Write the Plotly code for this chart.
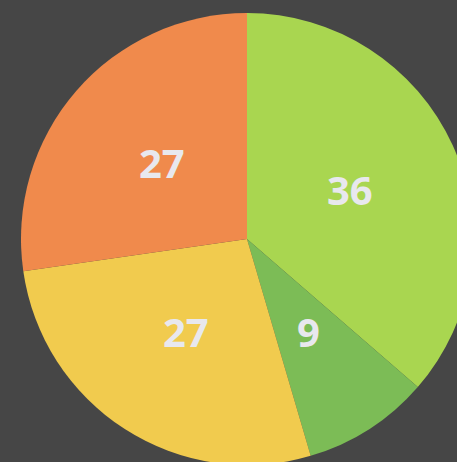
import math
import plotly.graph_objects as go

labels = ["A", "B", "C", "D"]
values = [36, 9, 27, 27]
colors = ["#a9d650", "#7cbc56", "#f1cb4e", "#f08a4c"]

fig = go.Figure(
    go.Pie(
        labels=labels,
        values=values,
        sort=False,
        direction="clockwise",
        rotation=0,
        marker=dict(colors=colors, line=dict(width=0)),
        textinfo="none",
        showlegend=False,
        hoverinfo="label+value",
    )
)

# value labels placed at half radius on each slice's mid-angle (derived from the data)
total = sum(values)
cum = 0
for v in values:
    mid = (cum + v / 2) / total * 2 * math.pi
    cum += v
    fig.add_annotation(
        x=0.5 + 0.25 * math.sin(mid),
        y=0.5 + 0.25 * math.cos(mid),
        xref="paper",
        yref="paper",
        xanchor="center",
        yanchor="middle",
        yshift=3,
        text=str(v),
        showarrow=False,
        font=dict(family="Open Sans", size=40, color="#e8e8ee", weight="bold"),
    )

fig.update_layout(
    width=494,
    height=478,
    margin=dict(l=21, r=21, t=13, b=13),
    paper_bgcolor="#464646",
    plot_bgcolor="#464646",
)

fig.write_html(
    "out.html",
    config={"displayModeBar": False},
    post_script="document.body.style.margin='0';document.body.style.overflow='hidden';document.documentElement.style.overflow='hidden';",
)
